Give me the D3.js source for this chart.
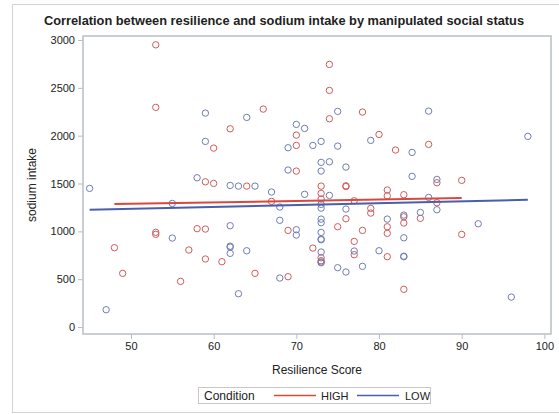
<!DOCTYPE html>
<html>
<head>
<meta charset="utf-8">
<script src="https://cdn.jsdelivr.net/npm/d3@7"></script>
<style>
  body { margin: 0; background: #fff; }
  text { font-family: "Liberation Sans", Arial, sans-serif; fill: #222; }
</style>
</head>
<body>
<div id="graph"></div>
<script>
// Data: [resilience score, sodium intake]
const highPoints = [
  [53, 2950], [53, 2296], [62, 2072], [60, 1870], [59, 1518], [60, 1501],
  [74, 2745], [74, 2473], [66, 2278], [74, 2177], [78, 2247], [70, 2006],
  [80, 2013], [70, 1898], [70, 1630], [64, 1473], [73, 1473], [76, 1476],
  [76, 1468], [86, 1909], [82, 1850], [87, 1508], [90, 1533], [53, 990],
  [53, 969], [58, 1028], [59, 1024], [48, 829], [57, 805], [59, 711],
  [61, 683], [49, 561], [56, 477], [81, 1432], [81, 1372], [73, 1397],
  [73, 1338], [67, 1313], [77, 1320], [79, 1240], [79, 1191], [76, 1132],
  [81, 1048], [81, 979], [75, 1048], [69, 1010], [78, 1010], [77, 895],
  [72, 825], [77, 756], [81, 735], [73, 724], [73, 693], [65, 561],
  [69, 526], [83, 1383], [87, 1299], [85, 1136], [83, 1152], [83, 1087],
  [90, 968], [83, 394]
];

const lowPoints = [
  [59, 2236], [59, 1940], [58, 1560], [62, 1480], [64, 2191], [75, 2254],
  [70, 2118], [71, 2076], [79, 1951], [69, 1874], [72, 1898], [73, 1940],
  [75, 1891], [73, 1721], [74, 1727], [76, 1672], [69, 1641], [73, 1630],
  [63, 1473], [65, 1473], [86, 2257], [98, 1993], [84, 1825], [84, 1575],
  [87, 1543], [45, 1449], [55, 1292], [55, 930], [62, 1059], [62, 845],
  [62, 835], [62, 770], [47, 181], [67, 1411], [71, 1387], [74, 1376],
  [68, 1254], [73, 1282], [73, 1243], [76, 1233], [68, 1115], [73, 1128],
  [73, 1090], [81, 1128], [70, 1017], [70, 961], [73, 989], [73, 919],
  [73, 912], [64, 797], [77, 794], [80, 797], [73, 784], [73, 672],
  [73, 680], [75, 620], [76, 575], [78, 634], [68, 512], [63, 348],
  [86, 1355], [87, 1226], [85, 1198], [83, 1170], [83, 933], [92, 1079],
  [83, 735], [83, 740], [96, 313]
];

// Regression fit line endpoints
const highFit = [[48, 1285], [90, 1348]];
const lowFit = [[45, 1226], [98, 1330]];

const xTicks = [50, 60, 70, 80, 90, 100];
const yTicks = [0, 500, 1000, 1500, 2000, 2500, 3000];
const legendLabels = ['HIGH', 'LOW'];

const width = 559;
const height = 414;
const plot = { left: 83, right: 551, top: 36, bottom: 334 };
const colors = { HIGH: '#d05b5b', LOW: '#6f7eb3' };
const lineColors = { HIGH: '#d9483b', LOW: '#4a5eab' };
const frameColor = '#b8bfc3';

const svg = d3.select('#graph').append('svg')
    .attr('width', width)
    .attr('height', height);

// Outer border
svg.append('rect')
    .attr('x', 12.5).attr('y', 4.5)
    .attr('width', 580).attr('height', 408)
    .attr('fill', 'none')
    .attr('stroke', '#d3d3d3');

const x = d3.scaleLinear().domain([44.2, 100.8]).range([plot.left, plot.right]);
const y = d3.scaleLinear().domain([-73, 3042]).range([plot.bottom, plot.top]);

// Title
svg.append('text')
    .attr('x', 284).attr('y', 25)
    .attr('text-anchor', 'middle')
    .style('font-size', '12.8px')
    .style('font-weight', 'bold')
    .text('Correlation between resilience and sodium intake by manipulated social status');

// Axes
const xAxis = svg.append('g')
    .attr('transform', `translate(0,${plot.bottom})`)
    .call(d3.axisBottom(x).tickValues(xTicks).tickSize(5).tickPadding(3));
const yAxis = svg.append('g')
    .attr('transform', `translate(${plot.left},0)`)
    .call(d3.axisLeft(y).tickValues(yTicks).tickFormat(d3.format('d')).tickSize(5).tickPadding(3));

[xAxis, yAxis].forEach(g => {
    g.select('.domain').remove();
    g.selectAll('line').attr('stroke', frameColor);
    g.selectAll('text').style('font-size', '11px').attr('fill', '#222');
});

// Plot frame
svg.append('rect')
    .attr('x', plot.left).attr('y', plot.top)
    .attr('width', plot.right - plot.left)
    .attr('height', plot.bottom - plot.top)
    .attr('fill', 'none')
    .attr('stroke', frameColor)
    .attr('stroke-width', 1.5);

// Axis labels
svg.append('text')
    .attr('x', (plot.left + plot.right) / 2).attr('y', 374)
    .attr('text-anchor', 'middle')
    .style('font-size', '12px')
    .text('Resilience Score');

svg.append('text')
    .attr('transform', `translate(36,${(plot.top + plot.bottom) / 2}) rotate(-90)`)
    .attr('text-anchor', 'middle')
    .style('font-size', '12px')
    .text('sodium intake');

// Markers
function drawPoints(data, color) {
    svg.append('g').selectAll('circle')
        .data(data)
        .enter().append('circle')
        .attr('cx', d => x(d[0]))
        .attr('cy', d => y(d[1]))
        .attr('r', 3.2)
        .attr('fill', 'none')
        .attr('stroke', color)
        .attr('stroke-width', 1);
}
drawPoints(highPoints, colors.HIGH);
drawPoints(lowPoints, colors.LOW);

// Fit lines
const line = d3.line().x(d => x(d[0])).y(d => y(d[1]));
svg.append('path').datum(highFit)
    .attr('d', line).attr('fill', 'none')
    .attr('stroke', lineColors.HIGH).attr('stroke-width', 2);
svg.append('path').datum(lowFit)
    .attr('d', line).attr('fill', 'none')
    .attr('stroke', lineColors.LOW).attr('stroke-width', 2);

// Legend
const legend = svg.append('g');
legend.append('rect')
    .attr('x', 198.5).attr('y', 387.5)
    .attr('width', 232).attr('height', 16)
    .attr('fill', 'none')
    .attr('stroke', '#c8c8c8');
legend.append('text')
    .attr('x', 204).attr('y', 400)
    .style('font-size', '12px')
    .text('Condition');
const legendItems = [
    { label: legendLabels[0], x1: 274, x2: 316, tx: 321, color: lineColors.HIGH },
    { label: legendLabels[1], x1: 357, x2: 399, tx: 405, color: lineColors.LOW }
];
legendItems.forEach(it => {
    legend.append('line')
        .attr('x1', it.x1).attr('x2', it.x2)
        .attr('y1', 395.5).attr('y2', 395.5)
        .attr('stroke', it.color).attr('stroke-width', 1.5);
    legend.append('text')
        .attr('x', it.tx).attr('y', 400)
        .style('font-size', '11px')
        .text(it.label);
});
</script>
</body>
</html>
